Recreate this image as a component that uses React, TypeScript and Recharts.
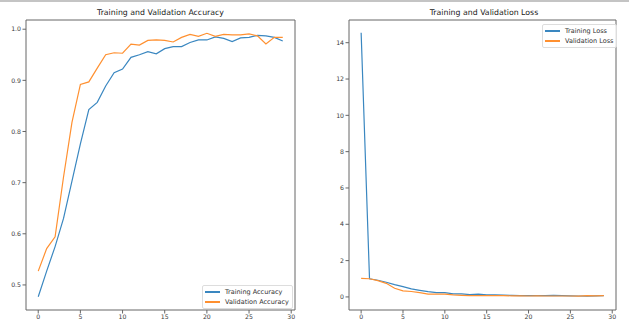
import { LineChart, Line, XAxis, YAxis, ReferenceArea } from 'recharts';

const epochs = [0, 1, 2, 3, 4, 5, 6, 7, 8, 9, 10, 11, 12, 13, 14, 15, 16, 17, 18, 19, 20, 21, 22, 23, 24, 25, 26, 27, 28, 29];

const trainAcc = [0.477, 0.527, 0.575, 0.63, 0.703, 0.776, 0.843, 0.857, 0.889, 0.915, 0.922, 0.945, 0.95, 0.956, 0.952, 0.962, 0.966, 0.966, 0.974, 0.979, 0.979, 0.985, 0.982, 0.976, 0.983, 0.984, 0.988, 0.987, 0.984, 0.977];
const valAcc = [0.527, 0.571, 0.594, 0.711, 0.818, 0.892, 0.897, 0.924, 0.95, 0.954, 0.953, 0.971, 0.969, 0.978, 0.979, 0.978, 0.975, 0.984, 0.99, 0.986, 0.992, 0.986, 0.99, 0.989, 0.989, 0.991, 0.987, 0.971, 0.984, 0.984];

const trainLoss = [14.55, 1.0, 0.92, 0.81, 0.68, 0.57, 0.44, 0.36, 0.29, 0.24, 0.24, 0.17, 0.17, 0.13, 0.15, 0.11, 0.11, 0.1, 0.08, 0.07, 0.07, 0.07, 0.07, 0.08, 0.07, 0.06, 0.05, 0.04, 0.06, 0.07];
const valLoss = [1.02, 1.0, 0.9, 0.75, 0.48, 0.33, 0.3, 0.24, 0.15, 0.15, 0.15, 0.11, 0.09, 0.07, 0.07, 0.07, 0.07, 0.07, 0.06, 0.06, 0.05, 0.06, 0.05, 0.05, 0.05, 0.05, 0.04, 0.07, 0.06, 0.07];

const xTicks = [0, 5, 10, 15, 20, 25, 30];
const accTicks = [0.5, 0.6, 0.7, 0.8, 0.9, 1.0];
const lossTicks = [0, 2, 4, 6, 8, 10, 12, 14];

const BLUE = '#3a87c0';
const ORANGE = '#ff9030';
const FONT = '"DejaVu Sans", sans-serif';
const X_DOMAIN: [number, number] = [-1.45, 30.45];

const accData = epochs.map((e, i) => ({ epoch: e, train: trainAcc[i], val: valAcc[i] }));
const lossData = epochs.map((e, i) => ({ epoch: e, train: trainLoss[i], val: valLoss[i] }));

const tickStyle = { fontSize: 6.2, fill: '#3a3a3a', fontFamily: FONT };

function Panel({ data, yDomain, yTicks, fmt, yWidth }: any) {
  return (
    <LineChart
      width={300}
      height={329}
      data={data}
      margin={{ top: 20, right: 5, left: 0, bottom: 0 }}
    >
      <XAxis
        dataKey="epoch"
        type="number"
        domain={X_DOMAIN}
        ticks={xTicks}
        allowDataOverflow
        height={19}
        axisLine={false}
        tickSize={3.5}
        tickMargin={1}
        tickLine={{ stroke: '#666' }}
        tick={tickStyle}
        interval={0}
      />
      <YAxis
        type="number"
        domain={yDomain}
        ticks={yTicks}
        allowDataOverflow
        width={yWidth}
        axisLine={false}
        tickSize={3.5}
        tickMargin={1.5}
        tickLine={{ stroke: '#666' }}
        tick={tickStyle}
        tickFormatter={fmt}
        interval={0}
      />
      <ReferenceArea
        x1={X_DOMAIN[0]}
        x2={X_DOMAIN[1]}
        y1={yDomain[0]}
        y2={yDomain[1]}
        fill="none"
        stroke="#666"
        strokeWidth={1}
        ifOverflow="visible"
      />
      <Line dataKey="train" stroke={BLUE} strokeWidth={1.2} dot={false} isAnimationActive={false} />
      <Line dataKey="val" stroke={ORANGE} strokeWidth={1.2} dot={false} isAnimationActive={false} />
    </LineChart>
  );
}

function LegendBox({ left, top, width, labels }: any) {
  return (
    <div
      style={{
        position: 'absolute',
        left,
        top,
        width,
        border: '1px solid #ddd',
        borderRadius: 2,
        background: 'rgba(255,255,255,0.8)',
        fontFamily: FONT,
        fontSize: 6.5,
        color: '#333',
        padding: '1px 2px',
        boxSizing: 'border-box',
      }}
    >
      {labels.map((l: string, i: number) => (
        <div key={l} style={{ display: 'flex', alignItems: 'center', height: 10 }}>
          <span
            style={{
              display: 'inline-block',
              width: 15,
              height: 1.5,
              background: i === 0 ? BLUE : ORANGE,
              marginRight: 5,
            }}
          />
          <span>{l}</span>
        </div>
      ))}
    </div>
  );
}

const titleStyle = {
  position: 'absolute' as const,
  top: 7,
  fontFamily: FONT,
  fontSize: 7.8,
  color: '#222',
  textAlign: 'center' as const,
  lineHeight: '12px',
};

export default function App() {
  return (
    <div style={{ position: 'absolute', left: 0, top: 0, width: 636, height: 329, background: '#fff', overflow: 'hidden' }}>
      <div style={{ position: 'absolute', left: 0, top: 0, width: 629, height: 1.5, background: '#c4c4c4' }} />
      <div style={{ ...titleStyle, left: 26, width: 269 }}>Training and Validation Accuracy</div>
      <div style={{ ...titleStyle, left: 349, width: 270 }}>Training and Validation Loss</div>
      <div style={{ position: 'absolute', left: 0, top: 0 }}>
        <Panel data={accData} yDomain={[0.451, 1.018]} yTicks={accTicks} fmt={(v: number) => v.toFixed(1)} yWidth={26} />
      </div>
      <div style={{ position: 'absolute', left: 321, top: 0 }}>
        <Panel data={lossData} yDomain={[-0.72, 15.25]} yTicks={lossTicks} fmt={(v: number) => String(v)} yWidth={28} />
      </div>
      <LegendBox left={202} top={285} width={91} labels={['Training Accuracy', 'Validation Accuracy']} />
      <LegendBox left={542} top={24} width={75} labels={['Training Loss', 'Validation Loss']} />
    </div>
  );
}
